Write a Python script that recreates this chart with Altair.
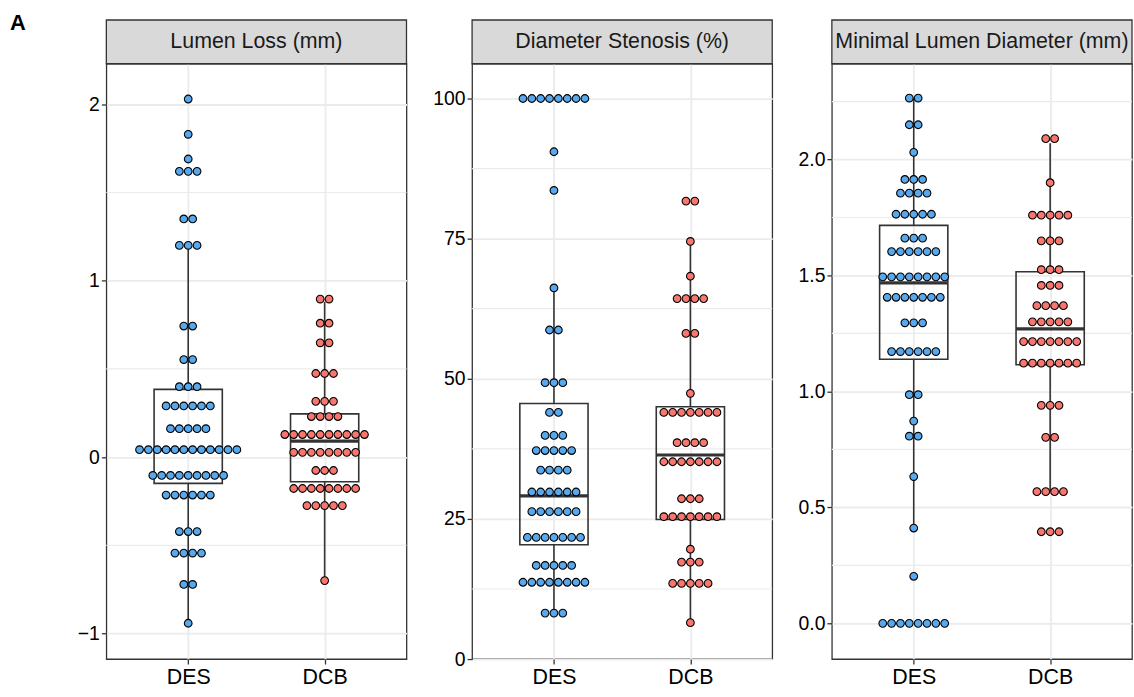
import altair as alt
import pandas as pd

# ---------------- data ----------------
GROUPS = ["DES", "DCB"]
TITLES = ["Lumen Loss (mm)", "Diameter Stenosis (%)", "Minimal Lumen Diameter (mm)"]

# Lumen Loss (mm): dot rows = value of the row, number of dots in the row
LL_DES_VALUES = [2.03, 1.83, 1.69, 1.62, 1.35, 1.20, 0.743, 0.553, 0.399, 0.290, 0.161, 0.042,
                 -0.104, -0.215, -0.422, -0.544, -0.722, -0.942]
LL_DES_COUNTS = [1, 1, 1, 3, 2, 3, 2, 2, 3, 6, 5, 12, 9, 6, 3, 4, 2, 1]
LL_DCB_VALUES = [0.896, 0.759, 0.648, 0.474, 0.316, 0.230, 0.128, 0.027, -0.076, -0.178, -0.275, -0.700]
LL_DCB_COUNTS = [2, 2, 2, 3, 3, 4, 10, 8, 3, 8, 5, 1]
LL_Q1 = [-0.149, -0.140]
LL_MEDIAN = [0.042, 0.091]
LL_Q3 = [0.384, 0.245]
LL_WHISKER_LO = [-0.942, -0.700]
LL_WHISKER_HI = [1.19, 0.88]

# Diameter Stenosis (%)
DS_DES_VALUES = [100.0, 90.5, 83.6, 66.2, 58.7, 49.3, 44.0, 39.9, 37.2, 33.7, 29.8, 26.3, 21.7, 16.7, 13.7, 8.2]
DS_DES_COUNTS = [8, 1, 1, 1, 2, 3, 2, 3, 5, 4, 6, 6, 7, 5, 8, 3]
DS_DCB_VALUES = [81.7, 74.5, 68.3, 64.3, 58.1, 47.4, 44.0, 38.6, 35.2, 28.6, 25.4, 19.6, 17.3, 13.5, 6.5]
DS_DCB_COUNTS = [2, 1, 1, 4, 2, 1, 7, 4, 7, 3, 7, 1, 3, 5, 1]
DS_Q1 = [20.4, 24.9]
DS_MEDIAN = [29.1, 36.4]
DS_Q3 = [45.6, 45.0]
DS_WHISKER_LO = [8.2, 6.5]
DS_WHISKER_HI = [66.2, 74.5]

# Minimal Lumen Diameter (mm)
MLD_DES_VALUES = [2.265, 2.150, 2.031, 1.914, 1.855, 1.764, 1.661, 1.603, 1.494, 1.406, 1.296, 1.172,
                  0.986, 0.872, 0.807, 0.633, 0.411, 0.203, 0.0]
MLD_DES_COUNTS = [2, 2, 1, 3, 4, 5, 3, 6, 8, 7, 3, 6, 2, 1, 2, 1, 1, 1, 8]
MLD_DCB_VALUES = [2.090, 1.900, 1.760, 1.649, 1.525, 1.457, 1.370, 1.300, 1.215, 1.122, 0.940, 0.802, 0.568, 0.395]
MLD_DCB_COUNTS = [2, 1, 5, 3, 3, 3, 4, 5, 7, 7, 3, 2, 4, 3]
MLD_Q1 = [1.139, 1.115]
MLD_MEDIAN = [1.468, 1.270]
MLD_Q3 = [1.716, 1.516]
MLD_WHISKER_LO = [0.411, 0.568]
MLD_WHISKER_HI = [2.265, 2.07]

# axis ticks
LL_MAJOR = [-1, 0, 1, 2]
LL_MINOR = [-0.5, 0.5, 1.5]
DS_MAJOR = [0, 25, 50, 75, 100]
DS_MINOR = [12.5, 37.5, 62.5, 87.5]
MLD_MAJOR = [0.0, 0.5, 1.0, 1.5, 2.0]
MLD_MINOR = [0.25, 0.75, 1.25, 1.75, 2.25]

# ---------------- style ----------------
FONT = "Liberation Sans"
BLUE = "#57A8EC"
RED = "#F8766D"
DARK = "#333333"
GRID = "#EBEBEB"
PW, PH = 302, 599
X_DOMAIN = [-0.6, 1.6]
DOT_STEP = 8.9 / (PW / (X_DOMAIN[1] - X_DOMAIN[0]))
STRIP_H = 44


def dots_frame(des_vals, des_counts, dcb_vals, dcb_counts):
    rows = []
    for gi, (vals, counts) in enumerate([(des_vals, des_counts), (dcb_vals, dcb_counts)]):
        for v, k in zip(vals, counts):
            for j in range(k):
                rows.append({"group": GROUPS[gi], "xpos": gi + (j - (k - 1) / 2) * DOT_STEP, "value": v})
    return pd.DataFrame(rows)


def panel(title, dots, q1, med, q3, lo, hi, domain, major, minor, label_expr, extent, show_a):
    xscale = alt.Scale(domain=X_DOMAIN, nice=False, zero=False)
    yscale = alt.Scale(domain=domain, nice=False, zero=False)
    xaxis = alt.Axis(values=[0, 1], labelExpr="datum.value == 0 ? 'DES' : 'DCB'", title=None,
                     grid=True, labelFontSize=21.5, labelPadding=3)
    yaxis = alt.Axis(values=major, labelExpr=label_expr, title=None, grid=True,
                     minExtent=extent, maxExtent=extent, labelFontSize=19.5, labelPadding=2)

    def X(f):
        return alt.X(f, scale=xscale, axis=xaxis, title=None)

    def Y(f):
        return alt.Y(f, scale=yscale, axis=yaxis, title=None)

    box_df = pd.DataFrame({"gx": [0, 1], "q1": q1, "med": med, "q3": q3, "lo": lo, "hi": hi})
    box_base = alt.Chart(box_df).transform_calculate(xl="datum.gx - 0.25", xr="datum.gx + 0.25")

    minor_rules = alt.Chart(pd.DataFrame({"m": minor})).mark_rule(color=GRID, strokeWidth=1.2).encode(
        y=Y("m:Q"))

    whisk_hi = box_base.mark_rule(color=DARK, strokeWidth=1.6).encode(
        x=X("gx:Q"), y=Y("q3:Q"), y2="hi:Q")
    whisk_lo = box_base.mark_rule(color=DARK, strokeWidth=1.6).encode(
        x=X("gx:Q"), y=Y("lo:Q"), y2="q1:Q")
    box = box_base.mark_rect(stroke=DARK, strokeWidth=1.6, fillOpacity=0).encode(
        x=X("xl:Q"), x2="xr:Q", y=Y("q1:Q"), y2="q3:Q")
    median = box_base.mark_rule(color=DARK, strokeWidth=3.2).encode(
        x=X("xl:Q"), x2="xr:Q", y=Y("med:Q"))

    pts = alt.Chart(dots).mark_circle(size=60, stroke="#000000", strokeWidth=1.1, opacity=1).encode(
        x=X("xpos:Q"), y=Y("value:Q"),
        fill=alt.Fill("group:N", scale=alt.Scale(domain=GROUPS, range=[BLUE, RED]), legend=None))

    lab = pd.DataFrame({"t": [title], "a": ["A"]})
    strip = alt.Chart(lab).mark_rect(fill="#D9D9D9", stroke=DARK, strokeWidth=1.3).encode(
        x=alt.value(0), x2=alt.value(PW), y=alt.value(-STRIP_H), y2=alt.value(0))
    strip_text = alt.Chart(lab).mark_text(fontSize=21.5, font=FONT, color="#1A1A1A",
                                          align="center", baseline="middle").encode(
        x=alt.value(PW / 2), y=alt.value(-STRIP_H / 2), text="t:N")
    # invisible white hairline that gives every panel the same top extent
    top_guide = alt.Chart(lab).mark_rule(color="#FFFFFF", strokeWidth=0.5).encode(
        x=alt.value(2), x2=alt.value(PW - 2), y=alt.value(-52), y2=alt.value(-52))

    layers = [minor_rules, whisk_hi, whisk_lo, box, median, pts, top_guide, strip, strip_text]
    if show_a:
        a_text = alt.Chart(lab).mark_text(fontSize=22, fontWeight="bold", font=FONT, align="left",
                                          baseline="alphabetic", color="#000000").encode(
            x=alt.value(-97), y=alt.value(-34), text="a:N")
        layers.append(a_text)
    return alt.layer(*layers).properties(width=PW, height=PH)


p1 = panel(TITLES[0], dots_frame(LL_DES_VALUES, LL_DES_COUNTS, LL_DCB_VALUES, LL_DCB_COUNTS),
           LL_Q1, LL_MEDIAN, LL_Q3, LL_WHISKER_LO, LL_WHISKER_HI,
           [-1.145, 2.23], LL_MAJOR, LL_MINOR,
           "datum.value < 0 ? '\u2212' + format(-datum.value, 'd') : format(datum.value, 'd')", 100, True)
p2 = panel(TITLES[1], dots_frame(DS_DES_VALUES, DS_DES_COUNTS, DS_DCB_VALUES, DS_DCB_COUNTS),
           DS_Q1, DS_MEDIAN, DS_Q3, DS_WHISKER_LO, DS_WHISKER_HI,
           [0, 106.2], DS_MAJOR, DS_MINOR, "format(datum.value, 'd')", 53, False)
p3 = panel(TITLES[2], dots_frame(MLD_DES_VALUES, MLD_DES_COUNTS, MLD_DCB_VALUES, MLD_DCB_COUNTS),
           MLD_Q1, MLD_MEDIAN, MLD_Q3, MLD_WHISKER_LO, MLD_WHISKER_HI,
           [-0.154, 2.413], MLD_MAJOR, MLD_MINOR, "format(datum.value, '.1f')", 47, False)

chart = alt.hconcat(p1, p2, p3, spacing=10).properties(
    padding={"left": 6, "top": 9, "right": 0, "bottom": 0}
).configure_view(
    stroke=DARK, strokeWidth=1.3
).configure_axis(
    domain=False, tickColor=DARK, tickWidth=1.3, tickSize=5, labelFont=FONT, labelColor="#000000",
    gridColor=GRID, gridWidth=1.8
)

chart.save("out.html", embed_options={"renderer": "svg", "actions": False})
